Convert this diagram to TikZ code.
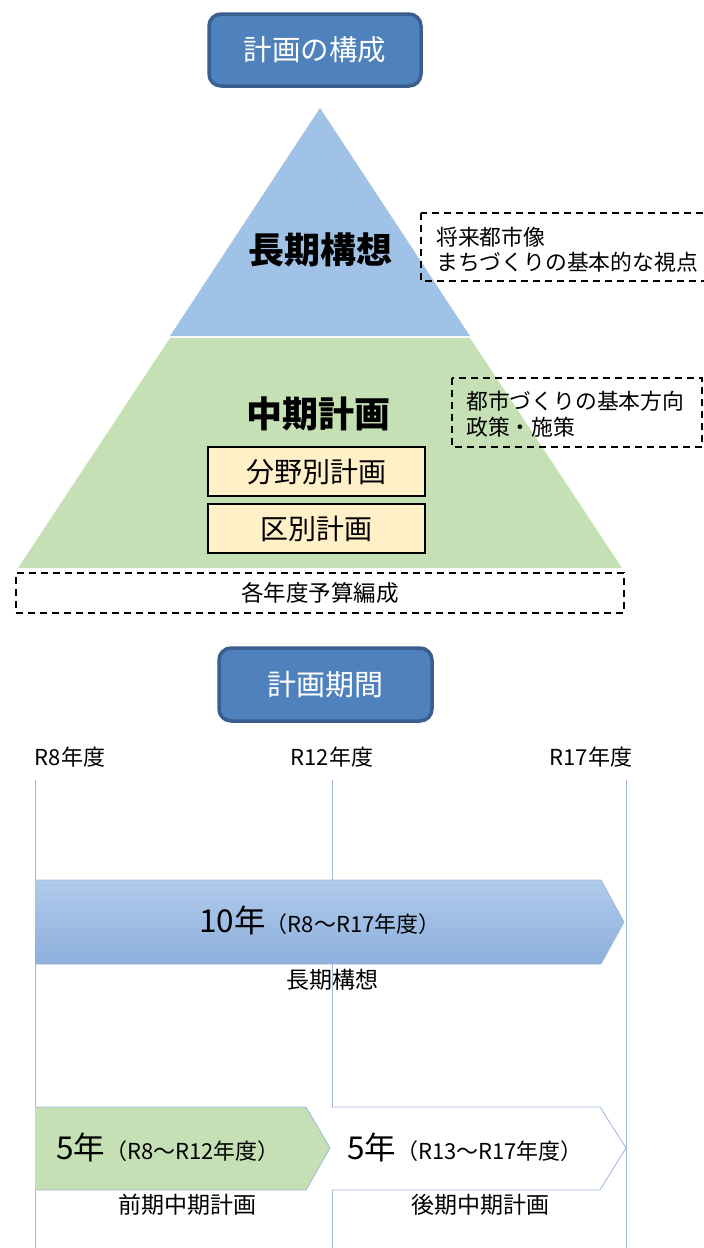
\documentclass[tikz,border=0pt]{standalone}
\usepackage{fontspec}
\setmainfont{Noto Sans CJK JP}
\definecolor{titlefill}{HTML}{4F81BD}
\definecolor{titledraw}{HTML}{3A5F8E}
\definecolor{pblue}{HTML}{A0C2E6}
\definecolor{pgreen}{HTML}{C5E0B4}
\definecolor{pyellow}{HTML}{FFF0C8}
\definecolor{vline}{HTML}{A3B9DB}
\definecolor{arrtop}{HTML}{AFCAEB}
\definecolor{arrbot}{HTML}{8EB0DD}
\definecolor{arredge}{HTML}{9EB7DA}
\newcommand{\fs}[1]{\fontsize{#1}{#1}\selectfont}
\tikzset{
  titlebox/.style={draw=titledraw, line width=3.5pt, fill=titlefill, rounded corners=12pt,
    minimum width=212pt, minimum height=72pt, text=white, font=\fs{28.5}, inner sep=0pt},
  dashbox/.style={draw=black, dash pattern=on 7pt off 5pt, line width=1.6pt, inner sep=0pt},
  planbox/.style={draw=black, line width=1.5pt, fill=pyellow, minimum width=217pt,
    minimum height=49pt, font=\fs{28}, inner sep=0pt},
  lbl/.style={inner sep=0pt, font=\fs{23}},
  notelbl/.style={inner sep=0pt, font=\fs{21.8}, anchor=west},
  yearlbl/.style={inner sep=0pt, font=\fs{22}},
  vl/.style={draw=vline, line width=0.9pt},
}
\begin{document}
\begin{tikzpicture}[x=1pt, y=-1pt]
\useasboundingbox (0,0) rectangle (704,1248);

% ---- title 1
\node[titlebox] (t1) at (315,50) {計画の構成};

% ---- pyramid
\fill[pgreen] (18,568) -- (622,568) -- (470,338) -- (170,338) -- cycle;
\fill[pblue] (170,336) -- (470,336) -- (320,108) -- cycle;
\node[inner sep=0pt, font=\fs{36}\bfseries] (long) at (320,250) {長期構想};
\node[inner sep=0pt, font=\fs{36}\bfseries] (mid) at (318,414) {中期計画};
\node[planbox] (field) at (316.5,471.5) {分野別計画};
\node[planbox] (ward) at (316.5,528.5) {区別計画};

% ---- dashed notes
\draw[dashbox] (421,213) rectangle (710,281);
\node[notelbl] (n1a) at (436,237) {将来都市像};
\node[notelbl] (n1b) at (436,262) {まちづくりの基本的な視点};
\draw[dashbox] (452,378) rectangle (702,447);
\node[notelbl] (n2a) at (466,401) {都市づくりの基本方向};
\node[notelbl] (n2b) at (466,427) {政策・施策};
\node[dashbox, minimum width=608pt, minimum height=40pt, font=\fs{22.5}] (budget) at (320,593) {各年度予算編成};

% ---- title 2
\node[titlebox, minimum width=213pt, minimum height=73pt, font=\fs{29}] (t2) at (325.5,684.5) {計画期間};

% ---- timeline
\node[yearlbl] (y8) at (70,757) {R8年度};
\node[yearlbl] (y12) at (332,757) {R12年度};
\node[yearlbl] (y17) at (591,757) {R17年度};
\coordinate (b8) at (35,1248);
\coordinate (b12) at (332,1248);
\coordinate (b17) at (626,1248);
\draw[vl] (35,780) -- (b8);
\draw[vl] (332,780) -- (b12);
\draw[vl] (626,780) -- (b17);

% long-term arrow
\shade[top color=arrtop, bottom color=arrbot] (35,880) -- (601,880) -- (624,922) -- (601,964) -- (35,964) -- cycle;
\draw[arredge, line width=0.8pt] (35,880) -- (601,880) -- (624,922) -- (601,964) -- (35,964);
\node[inner sep=0pt] (a10) at (320,920) {\fs{31.5}10年\fs{22}（R8～R17年度）};
\node[lbl] (l10) at (332,980) {長期構想};

% first mid-term
\draw[arredge, fill=pgreen, line width=0.8pt] (35,1107) -- (306,1107) -- (330,1148) -- (306,1190) -- (35,1190);
\node[inner sep=0pt] (a5a) at (168,1147) {\fs{31.5}5年\fs{22}（R8～R12年度）};
\node[lbl] (l5a) at (187,1205) {前期中期計画};

% second mid-term
\draw[arredge, fill=white, line width=0.8pt] (332,1107) -- (600,1107) -- (626,1148) -- (600,1190) -- (332,1190);
\node[inner sep=0pt] (a5b) at (465,1147) {\fs{31.5}5年\fs{22}（R13～R17年度）};
\node[lbl] (l5b) at (480,1205) {後期中期計画};
\end{tikzpicture}
\end{document}
